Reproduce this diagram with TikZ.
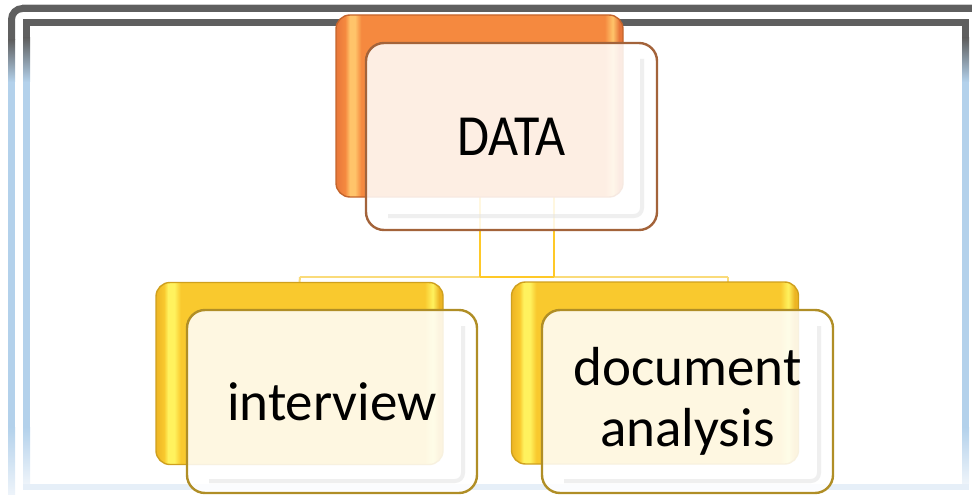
\documentclass[tikz,border=0pt]{standalone}
\usepackage{fontspec}
\newfontfamily\calib{Carlito}
\usetikzlibrary{calc}

\definecolor{fgray}{HTML}{5F5F5F}
\definecolor{fblue}{HTML}{B3D1EB}
\definecolor{fpale}{HTML}{EEF4FA}
\definecolor{fbot}{HTML}{E6EFF8}
\definecolor{fedge}{HTML}{DDDDDD}
\definecolor{orgmain}{HTML}{F5893F}
\definecolor{orgdark}{HTML}{C4652C}
\definecolor{orghl}{HTML}{FFC46A}
\definecolor{orgedge}{HTML}{E8773A}
\definecolor{ylwmain}{HTML}{F9C92E}
\definecolor{ylwdark}{HTML}{CFA01E}
\definecolor{ylwhl}{HTML}{FFF25E}
\definecolor{ylwedge}{HTML}{EDB524}
\definecolor{brownline}{HTML}{A3633A}
\definecolor{goldline}{HTML}{B08E26}
\definecolor{connbright}{HTML}{FFC928}
\definecolor{connlight}{HTML}{FADB7A}
\definecolor{bevelgray}{HTML}{E2E2E2}

\pgfdeclarehorizontalshading{orgglow}{100bp}{color(0bp)=(orgedge); color(25bp)=(orgedge); color(26.6bp)=(orgmain); color(27.4bp)=(orghl); color(28.3bp)=(orghl); color(29.4bp)=(orgmain); color(71.8bp)=(orgmain); color(73.2bp)=(orghl); color(74.3bp)=(orgedge); color(75bp)=(orgedge); color(100bp)=(orgedge)}
\pgfdeclarehorizontalshading{ylwglow}{100bp}{color(0bp)=(ylwedge); color(25bp)=(ylwedge); color(26.4bp)=(ylwmain); color(27.1bp)=(ylwhl); color(28.2bp)=(ylwhl); color(29.3bp)=(ylwmain); color(71.8bp)=(ylwmain); color(73.2bp)=(ylwhl); color(74.3bp)=(ylwedge); color(75bp)=(ylwedge); color(100bp)=(ylwedge)}

\tikzset{
  backbox/.style={rounded corners=14pt, minimum width=287pt, minimum height=182pt,
    inner sep=0pt, outer sep=0pt, line width=1.4pt},
  orgback/.style={backbox, shade, shading=orgglow, draw=orgdark},
  ylwback/.style={backbox, shade, shading=ylwglow, draw=ylwdark},
  frontbox/.style={rounded corners=18pt, minimum width=291pt, minimum height=185pt,
    inner sep=0pt, outer sep=0pt, line width=2.4pt, fill=white, fill opacity=0.86,
    text opacity=1, text=black, align=center},
  datafront/.style={frontbox, draw=brownline, font=\calib\fontsize{52}{60}\selectfont},
  childfront/.style={frontbox, draw=goldline, font=\calib\fontsize{55}{61}\selectfont},
  bevel/.style={draw=bevelgray, line width=4pt, rounded corners=8pt, opacity=0.55},
  connb/.style={draw=connbright, line width=2pt},
  connl/.style={draw=connlight, line width=2pt},
}

\begin{document}
\begin{tikzpicture}[x=1pt,y=-1pt]
\useasboundingbox (0,0) rectangle (972,495);

% ---- frame ----
\draw[fedge, line width=1pt] (22,4.2) -- (972,4.2);
\draw[fgray, line width=7pt, rounded corners=11pt] (11.5,40) -- (11.5,8.5) -- (972,8.5);
\shade[top color=fgray, bottom color=fblue] (8,40) rectangle (15,82);
\fill[fblue] (8,82) rectangle (15,427);
\shade[top color=fblue, bottom color=fpale] (8,427) rectangle (15,495);

\fill[fgray] (23,19) rectangle (969,26);
\fill[fgray] (23,26) rectangle (30,38);
\shade[top color=fgray, bottom color=fblue] (23,38) rectangle (30,82);
\fill[fblue] (23,82) rectangle (30,427);
\shade[top color=fblue, bottom color=fpale] (23,427) rectangle (30,484);
\fill[fgray] (962,26) rectangle (969,38);
\shade[top color=fgray, bottom color=fblue] (962,38) rectangle (969,82);
\fill[fblue] (962,82) rectangle (969,427);
\shade[top color=fblue, bottom color=fpale] (962,427) rectangle (969,484);
\fill[fbot] (23,484) rectangle (969,490);

% ---- node positions ----
\coordinate (pdb) at (479.5,106);
\coordinate (pdf) at (511.5,136.5);
\coordinate (plb) at (299.5,373.5);
\coordinate (plf) at (332,401.5);
\coordinate (prb) at (655,373);
\coordinate (prf) at (687.5,401.5);

% ---- connectors (behind boxes) ----
\path (pdb) node[backbox] (dbghost) {};
\path (plb) node[backbox] (lghost) {};
\path (prb) node[backbox] (rghost) {};
\coordinate (jl) at (300,277);
\coordinate (jm1) at (479.5,277);
\coordinate (jm2) at (554,277);
\coordinate (jr) at (728,277);
\draw[connl] (jl) -- (jm1);
\draw[connl] (jm2) -- (jr);
\draw[connb] (jm1) -- (jm2);
\draw[connb] (dbghost.south) -- (jm1);
\draw[connb] ($(dbghost.south)+(74.5,0)$) -- (jm2);
\draw[connl] (jl) -- (lghost.north);
\draw[connl] (jr) -- ($(rghost.north)+(73,0)$);

% ---- back boxes ----
\node[orgback] (databack) at (pdb) {};
\node[ylwback] (intback) at (plb) {};
\node[ylwback] (docback) at (prb) {};

% ---- front boxes ----
\node[datafront, minimum height=187pt] (data) at (pdf) {\scalebox{1}[1.12]{DATA}};
\node[childfront, minimum width=290pt, minimum height=183pt] (interview) at (plf) {interview};
\node[childfront, minimum height=183pt] (docan) at (prf) {document\\analysis};

% ---- inner bevels ----
\draw[bevel] ([xshift=-15pt,yshift=-16pt]data.north east) -- ([xshift=-15pt,yshift=14pt]data.south east) -- ([xshift=22pt,yshift=14pt]data.south west);
\draw[bevel] ([xshift=-14pt,yshift=-16pt]interview.north east) -- ([xshift=-14pt,yshift=12pt]interview.south east) -- ([xshift=22pt,yshift=12pt]interview.south west);
\draw[bevel] ([xshift=-14pt,yshift=-16pt]docan.north east) -- ([xshift=-14pt,yshift=12pt]docan.south east) -- ([xshift=22pt,yshift=12pt]docan.south west);
\end{tikzpicture}
\end{document}
